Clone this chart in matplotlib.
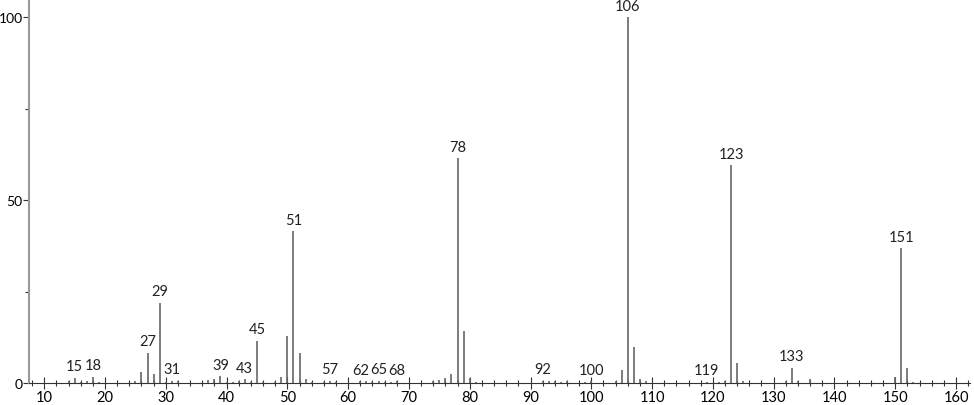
import numpy as np
import matplotlib
matplotlib.use('Agg')
import matplotlib.pyplot as plt
from matplotlib.ticker import MultipleLocator

plt.rcParams['font.family'] = ['Lato', 'DejaVu Sans']

# m/z and relative intensity
mz = [14, 15, 16, 17, 18, 19, 25, 26, 27, 28, 29, 30, 31, 32,
      37, 38, 39, 40, 41, 42, 43, 44, 45, 46, 48, 49, 50, 51, 52, 53, 54,
      56, 57, 58, 62, 63, 64, 65, 66, 67, 68,
      74, 75, 76, 77, 78, 79, 80, 81,
      92, 93, 94, 95, 96, 99, 100, 104, 105, 106, 107, 108, 109,
      119, 121, 122, 123, 124, 125, 132, 133, 134, 136,
      150, 151, 152, 153]
intensity = [0.5, 1.5, 0.4, 0.6, 1.7, 0.4, 0.5, 3.0, 8.3, 2.5, 21.9, 0.4, 0.6, 0.5,
             0.8, 1.2, 1.8, 0.4, 0.4, 0.5, 1.0, 0.4, 11.6, 0.4, 0.4, 1.6, 12.8, 41.5, 8.1, 1.1, 0.4,
             0.4, 0.6, 0.4, 0.5, 0.5, 0.4, 0.6, 0.4, 0.4, 0.5,
             0.5, 0.7, 1.4, 2.4, 61.5, 14.3, 1.4, 0.4,
             0.6, 0.5, 0.6, 0.4, 0.5, 0.3, 0.5, 0.6, 3.6, 100, 9.8, 1.2, 0.5,
             0.4, 0.4, 0.5, 59.5, 5.4, 0.6, 0.6, 4.2, 0.6, 1.2,
             1.6, 36.8, 4.1, 0.4]

labeled = [15, 18, 27, 29, 31, 39, 43, 45, 51, 57, 62, 65, 68, 78,
           92, 100, 106, 119, 123, 133, 151]

fig = plt.figure(figsize=(9.74, 4.06), dpi=100)
ax = fig.add_axes([29/974, 22/406, 941/974, 382/406])

ax.vlines(mz, 0, intensity, color='#666666', linewidth=1.2)

for m, v in zip(mz, intensity):
    if m in labeled:
        ax.text(m, v + 1.2, str(m), ha='center', va='bottom', fontsize=10.5, color='#222222')

ax.set_xlim(7.5, 162.3)
ax.set_ylim(0, 104.4)

ax.xaxis.set_major_locator(MultipleLocator(10))
ax.xaxis.set_minor_locator(MultipleLocator(2))
ax.yaxis.set_major_locator(MultipleLocator(50))
ax.yaxis.set_minor_locator(MultipleLocator(25))

ax.spines['top'].set_visible(False)
ax.spines['right'].set_visible(False)
ax.spines['left'].set_color('#999999')
ax.spines['left'].set_linewidth(1.5)
ax.spines['bottom'].set_color('#333333')

ax.tick_params(axis='x', which='major', direction='inout', length=8, width=0.8,
               color='#333333', labelsize=10.5, pad=1)
ax.tick_params(axis='x', which='minor', direction='inout', length=4, width=0.8, color='#333333')
ax.tick_params(axis='y', which='major', direction='out', length=4, width=0.8,
               color='#333333', labelsize=10, pad=0.5)
ax.tick_params(axis='y', which='minor', direction='out', length=3, width=0.8, color='#333333')

fig.savefig('out.png', dpi=100)
